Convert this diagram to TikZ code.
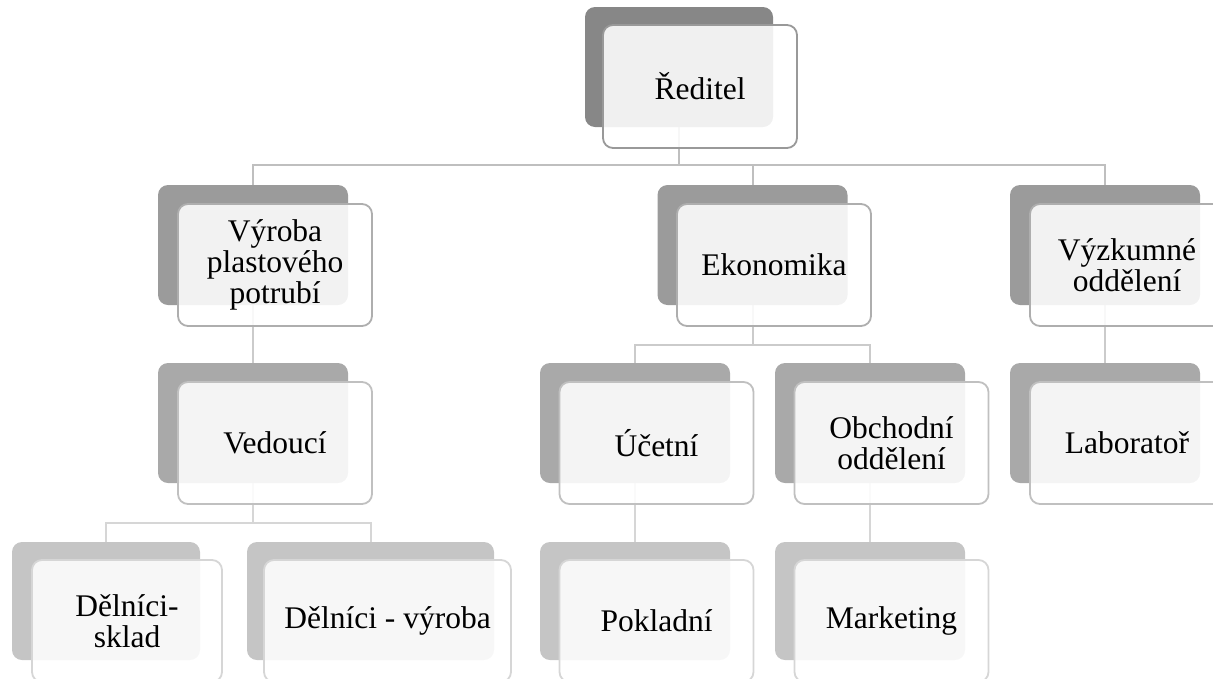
\documentclass[tikz,border=0pt]{standalone}
\usepackage{fontspec}
\setmainfont{Liberation Serif}
\pgfdeclarelayer{bg}
\pgfsetlayers{bg,main}
\definecolor{sh1}{HTML}{878787}
\definecolor{sh2}{HTML}{9B9B9B}
\definecolor{sh3}{HTML}{A9A9A9}
\definecolor{sh4}{HTML}{C5C5C5}
\definecolor{bd1}{HTML}{999999}
\definecolor{bd2}{HTML}{AEAEAE}
\definecolor{bd3}{HTML}{C0C0C0}
\definecolor{bd4}{HTML}{D6D6D6}
\definecolor{cn1}{HTML}{BFBFBF}
\definecolor{cn2}{HTML}{CBCBCB}
\definecolor{cn3}{HTML}{D6D6D6}
\begin{document}
\begin{tikzpicture}[x=1pt,y=-1pt,
  conn/.style={line width=2pt},
  shd/.style={rounded corners=10pt, inner sep=0pt, minimum width=190pt, minimum height=120pt},
  frt/.style={rounded corners=10pt, line width=1.8pt, fill=white, fill opacity=0.88, text opacity=1,
    align=center, inner sep=0pt, minimum width=194pt, minimum height=122pt,
    font=\fontsize{31.5}{31}\selectfont},
]
\useasboundingbox (0,0) rectangle (1213,678);
\clip (0,0) rectangle (1213,678);
% level 1
\node[shd, fill=sh1, minimum width=188pt] (s-red) at (679,67) {};
\node[frt, draw=bd1, minimum height=123pt] (red) at (700,86.5) {Ředitel};
% level 2
\node[shd, fill=sh2] (s-vyr) at (253,245) {};
\node[frt, draw=bd2] (vyr) at (275,265) {Výroba\\plastového\\potrubí};
\node[shd, fill=sh2] (s-eko) at (752.5,245) {};
\node[frt, draw=bd2] (eko) at (774,265) {Ekonomika};
\node[shd, fill=sh2] (s-vyz) at (1105,245) {};
\node[frt, draw=bd2] (vyz) at (1127,265) {Výzkumné\\oddělení};
% level 3
\node[shd, fill=sh3] (s-ved) at (253,423) {};
\node[frt, draw=bd3] (ved) at (275,443) {Vedoucí};
\node[shd, fill=sh3] (s-uce) at (635,423) {};
\node[frt, draw=bd3] (uce) at (656.5,443) {Účetní};
\node[shd, fill=sh3] (s-obc) at (870,423) {};
\node[frt, draw=bd3] (obc) at (891.5,443) {Obchodní\\oddělení};
\node[shd, fill=sh3] (s-lab) at (1105,423) {};
\node[frt, draw=bd3] (lab) at (1127,443) {Laboratoř};
% level 4
\node[shd, fill=sh4, minimum width=188pt, minimum height=118pt] (s-dsk) at (106,601) {};
\node[frt, draw=bd4, minimum width=190pt] (dsk) at (127,621) {Dělníci-\\sklad};
\node[shd, fill=sh4, minimum width=247pt, minimum height=118pt] (s-dvy) at (370.5,601) {};
\node[frt, draw=bd4, minimum width=247pt] (dvy) at (387.5,621) {Dělníci - výroba};
\node[shd, fill=sh4, minimum height=118pt] (s-pok) at (635,601) {};
\node[frt, draw=bd4] (pok) at (656.5,621) {Pokladní};
\node[shd, fill=sh4, minimum height=118pt] (s-mar) at (870,601) {};
\node[frt, draw=bd4] (mar) at (891.5,621) {Marketing};
% connectors
\begin{pgfonlayer}{bg}
\draw[conn, draw=cn1] (s-red.south) -- ++(0,38) coordinate (j1);
\draw[conn, draw=cn1] (s-vyr.north) -- (s-vyr.north |- j1) -- (s-vyz.north |- j1) -- (s-vyz.north);
\draw[conn, draw=cn1] (s-eko.north) -- (s-eko.north |- j1);
\draw[conn, draw=cn2] (s-vyr.south) -- (s-ved.north);
\draw[conn, draw=cn2] (s-eko.south) -- ++(0,40) coordinate (j2);
\draw[conn, draw=cn2] (s-uce.north) -- (s-uce.north |- j2) -- (s-obc.north |- j2) -- (s-obc.north);
\draw[conn, draw=cn2] (s-vyz.south) -- (s-lab.north);
\draw[conn, draw=cn3] (s-ved.south) -- ++(0,40) coordinate (j3);
\draw[conn, draw=cn3] (s-dsk.north) -- (s-dsk.north |- j3) -- (s-dvy.north |- j3) -- (s-dvy.north);
\draw[conn, draw=cn3] (s-uce.south) -- (s-pok.north);
\draw[conn, draw=cn3] (s-obc.south) -- (s-mar.north);
\end{pgfonlayer}
\end{tikzpicture}
\end{document}
